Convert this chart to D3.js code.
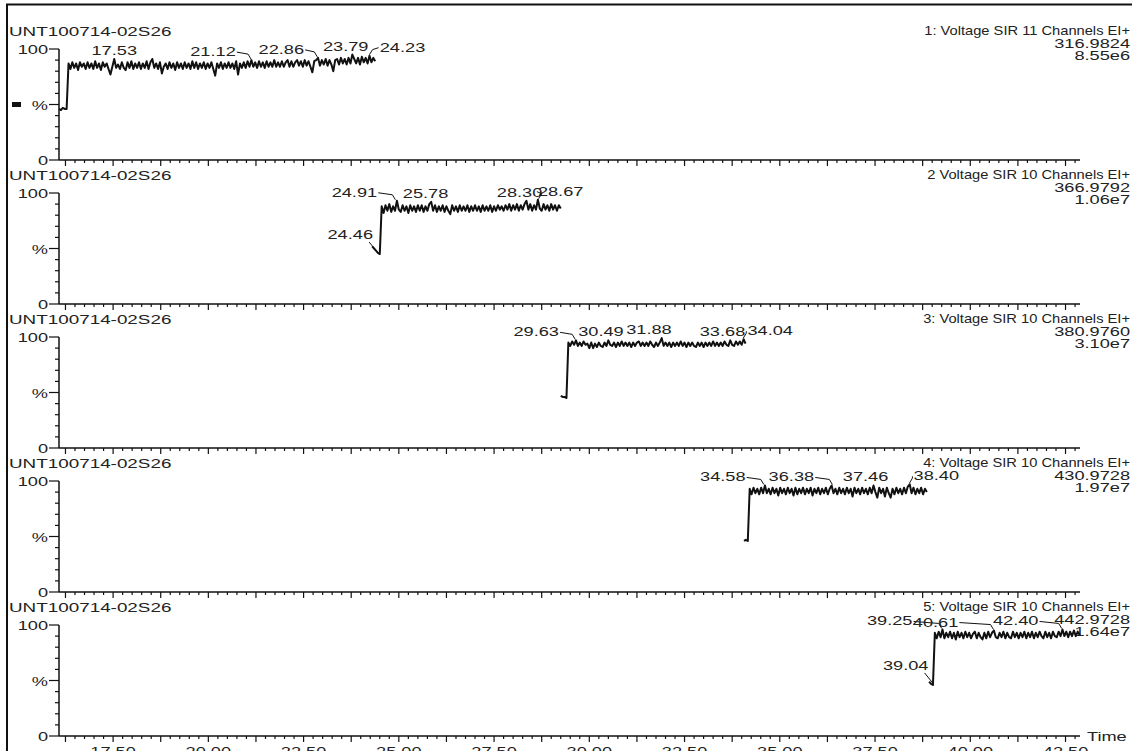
<!DOCTYPE html>
<html>
<head>
<meta charset="utf-8">
<script src="https://cdn.jsdelivr.net/npm/d3@7"></script>
<style>
  body { margin: 0; background: #fff; }
  svg { display: block; }
  text { font-family: "Liberation Sans", Arial, sans-serif; font-size: 13px; fill: #222; }
</style>
</head>
<body>
<svg id="chart" width="1132" height="751"></svg>
<script>
// ---- data ----
const sampleTitle = "UNT100714-02S26";
const channelTitles = [
  "1: Voltage SIR 11 Channels EI+",
  "2 Voltage SIR 10 Channels EI+",
  "3: Voltage SIR 10 Channels EI+",
  "4: Voltage SIR 10 Channels EI+",
  "5: Voltage SIR 10 Channels EI+"
];
const channelMasses = ["316.9824", "366.9792", "380.9760", "430.9728", "442.9728"];
const channelIntensities = ["8.55e6", "1.06e7", "3.10e7", "1.97e7", "1.64e7"];

// first scan time of each trace (min) and scan interval
const traceStart = [16.08, 24.30, 29.25, 34.06, 38.92];
const scanStep = 0.05;

// relative intensity (%) of each scan
const trace1 = [
  46, 45, 47, 46, 46,
  87, 82, 88, 83, 87, 81, 88, 84, 87, 82,
  88, 83, 87, 82, 89, 83, 87, 81, 88, 84,
  87, 82, 77, 84, 91, 83, 86, 82, 88, 83,
  81, 88, 83, 89, 82, 87, 83, 88, 82, 87,
  83, 89, 82, 88, 91, 83, 87, 82, 88, 78,
  84, 87, 82, 88, 83, 87, 81, 88, 83, 87,
  82, 88, 83, 87, 82, 89, 83, 88, 82, 87,
  83, 88, 82, 87, 83, 88, 82, 76, 87, 83,
  88, 82, 87, 83, 88, 83, 87, 82, 89, 77,
  87, 83, 88, 83, 89, 84, 90, 84, 88, 83,
  89, 84, 88, 83, 89, 84, 88, 84, 90, 84,
  88, 84, 89, 84, 88, 90, 84, 89, 84, 88,
  90, 85, 89, 84, 90, 85, 89, 84, 79, 89,
  90, 92, 85, 90, 86, 91, 85, 90, 86, 80,
  90, 91, 86, 92, 87, 91, 86, 92, 87, 95,
  91, 87, 92, 86, 93, 88, 92, 87, 94, 88,
  92, 89
];
const trace2 = [
  52, 50, 48, 46, 45,
  88, 82, 89, 84, 90, 83, 88, 84, 93, 85,
  83, 89, 84, 88, 82, 89, 84, 88, 83, 89,
  84, 89, 83, 88, 84, 90, 92, 84, 89, 83,
  88, 84, 89, 83, 88, 84, 81, 89, 84, 88,
  83, 89, 84, 88, 84, 89, 83, 88, 84, 89,
  84, 88, 83, 89, 84, 88, 84, 89, 83, 88,
  84, 89, 85, 88, 84, 89, 85, 90, 84, 89,
  85, 90, 84, 89, 85, 90, 93, 85, 90, 84,
  89, 85, 94, 86, 84, 90, 85, 89, 84, 90,
  85, 89, 84, 89, 86
];
const trace3 = [
  47, 46, 46, 45,
  95, 92, 96, 93, 97, 92, 95, 92, 96, 93,
  94, 90, 95, 90, 94, 91, 95, 92, 91, 95,
  92, 97, 93, 92, 95, 91, 95, 92, 96, 92,
  95, 92, 95, 91, 95, 92, 95, 96, 92, 95,
  92, 95, 92, 96, 93, 91, 95, 92, 95, 99,
  92, 95, 92, 95, 91, 95, 92, 95, 92, 96,
  92, 95, 91, 95, 92, 95, 92, 91, 95, 92,
  95, 91, 95, 92, 95, 92, 96, 92, 95, 92,
  95, 92, 96, 93, 92, 97, 93, 92, 96, 93,
  96, 93, 98, 94
];
const trace4 = [
  46, 47, 46,
  93, 88, 94, 89, 93, 88, 94, 89, 96, 89,
  93, 88, 94, 89, 93, 87, 94, 89, 93, 88,
  94, 89, 93, 87, 94, 88, 93, 89, 94, 88,
  93, 89, 94, 87, 93, 89, 94, 88, 93, 89,
  94, 88, 93, 96, 89, 93, 88, 94, 89, 93,
  88, 94, 89, 93, 86, 94, 89, 93, 88, 94,
  89, 93, 88, 94, 89, 96, 90, 85, 94, 89,
  93, 86, 94, 89, 85, 93, 88, 94, 89, 93,
  88, 94, 89, 95, 97, 89, 94, 88, 93, 89,
  94, 88, 93, 90
];
const trace5 = [
  49, 47, 46,
  93, 88, 94, 89, 96, 88, 93, 89, 94, 88,
  93, 87, 94, 89, 93, 88, 94, 89, 93, 88,
  92, 94, 88, 93, 89, 87, 93, 88, 94, 89,
  93, 95, 89, 88, 93, 89, 94, 88, 93, 89,
  88, 94, 89, 93, 88, 93, 89, 94, 88, 93,
  89, 94, 88, 93, 89, 94, 90, 88, 94, 89,
  93, 88, 94, 90, 89, 94, 90, 96, 90, 94,
  89, 94, 90, 95, 90, 94, 91
];
const traces = [trace1, trace2, trace3, trace4, trace5];

// labelled peak apex / valley times
const peakLabels = [
  [17.53, 21.12, 22.86, 23.79, 24.23],
  [24.91, 25.78, 28.30, 28.67],
  [29.63, 30.49, 31.88, 33.68, 34.04],
  [34.58, 36.38, 37.46, 38.40],
  [39.25, 40.61, 42.40]
];
const valleyLabels = [[], [24.46], [], [], [39.04]];

const xTickValues = [17.5, 20, 22.5, 25, 27.5, 30, 32.5, 35, 37.5, 40, 42.5];
const yTickLabels = [[0, "0"], [50, "%"], [100, "100"]];

// ---- layout ----
// horizontal shift of each peak label (labels pushed aside so they don't overlap)
const peakLabelShift = [
  [0, -38, -36, -7, 33],
  [-41, -3, -5, 22],
  [-39, -7, -12, -7, 27],
  [-41, -41, -8, 27],
  [-52, -58, -46]
];

const svg = d3.select('#chart');
const panelGap = 144;
const x = d3.scaleLinear().domain([16.08, 42.88]).range([59, 1080]);
const ink = '#111';
const numStretch = 1.4;

function stext(parent, px, py, str, anchor, sx) {
  const g = parent.append('g').attr('transform', `translate(${px},${py}) scale(${sx},1)`);
  return g.append('text').attr('text-anchor', anchor).text(str);
}

// frame
svg.append('path')
  .attr('d', 'M7,751 V4.5 H1132')
  .attr('fill', 'none').attr('stroke', ink).attr('stroke-width', 2);

traces.forEach((vals, i) => {
  const top = panelGap * i;
  const y = d3.scaleLinear().domain([0, 100]).range([160 + top, 49 + top]);
  const g = svg.append('g');

  // headers
  stext(g, 9, 36 + top, sampleTitle, 'start', 1.45);
  stext(g, 1130, 35 + top, channelTitles[i], 'end', 1.13);
  stext(g, 1130, 48 + top, channelMasses[i], 'end', numStretch);
  stext(g, 1130, 60 + top, channelIntensities[i], 'end', numStretch);

  if (i === 0) {
    g.append('rect').attr('x', 12).attr('y', 102).attr('width', 9).attr('height', 5).attr('fill', ink);
  }

  // y axis
  g.append('line').attr('x1', 59).attr('x2', 59).attr('y1', y(100)).attr('y2', y(0))
    .attr('stroke', ink).attr('stroke-width', 1.5);
  d3.range(0, 101, 10).forEach(v => {
    const len = v % 50 === 0 ? 10 : 4;
    g.append('line').attr('x1', 59 - len).attr('x2', 59).attr('y1', y(v)).attr('y2', y(v))
      .attr('stroke', ink).attr('stroke-width', 1.2);
  });
  yTickLabels.forEach(([v, s]) => stext(g, 48, y(v) + 5, s, 'end', numStretch));

  // x axis
  g.append('line').attr('x1', 59).attr('x2', 1080).attr('y1', y(0)).attr('y2', y(0))
    .attr('stroke', ink).attr('stroke-width', 1.5);
  d3.range(65, 172).forEach(k => {
    const t = k * 0.25;
    const len = k % 5 === 0 ? 6 : 3;
    g.append('line').attr('x1', x(t)).attr('x2', x(t)).attr('y1', y(0)).attr('y2', y(0) + len)
      .attr('stroke', ink).attr('stroke-width', 1.2);
  });
  if (i === traces.length - 1) {
    xTickValues.forEach(t => stext(g, x(t), y(0) + 20, t.toFixed(2), 'middle', numStretch));
    stext(g, 1087, y(0) + 5, 'Time', 'start', numStretch);
  }

  // trace
  const pts = vals.map((v, k) => [traceStart[i] + k * scanStep, v]);
  g.append('path').datum(pts)
    .attr('d', d3.line().x(d => x(d[0])).y(d => y(d[1])))
    .attr('fill', 'none').attr('stroke', ink).attr('stroke-width', 2).attr('stroke-linejoin', 'round');

  const near = t => Math.round((t - traceStart[i]) / scanStep);
  const windowVals = k => vals.slice(Math.max(0, k - 2), Math.min(vals.length, k + 3));

  // peak labels
  peakLabels[i].forEach((t, j) => {
    const k = near(t);
    const px = x(t), py = y(d3.max(windowVals(k)));
    const shift = peakLabelShift[i][j];
    const cx = px + shift, base = py - 4;
    const txt = stext(g, cx, base, t.toFixed(2), 'middle', numStretch);
    const w = txt.node().getBBox().width * numStretch;
    if (Math.abs(shift) > 12) {
      const sx = shift < 0 ? cx + w / 2 + 1 : cx - w / 2 - 1;
      const mx = shift < 0 ? px - 3 : px + 3;
      g.append('path').attr('d', `M${sx},${base - 4} L${mx},${base - 2} L${px},${py - 1}`)
        .attr('fill', 'none').attr('stroke', ink).attr('stroke-width', 1);
    }
  });

  // valley labels
  valleyLabels[i].forEach(t => {
    const k = near(t);
    const px = x(t), py = y(d3.min(windowVals(k)));
    const cx = px - 28, base = py - 15;
    const txt = stext(g, cx, base, t.toFixed(2), 'middle', numStretch);
    const w = txt.node().getBBox().width * numStretch;
    g.append('path').attr('d', `M${cx + w / 2 - 4},${base + 3} L${px - 1},${py - 2}`)
      .attr('fill', 'none').attr('stroke', ink).attr('stroke-width', 1);
  });
});
</script>
</body>
</html>
